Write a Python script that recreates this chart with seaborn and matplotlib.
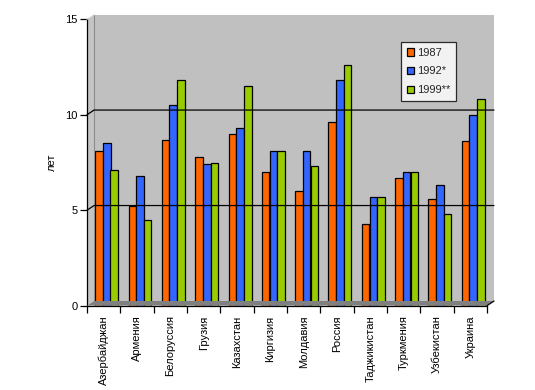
import matplotlib
matplotlib.use("Agg")
import matplotlib.pyplot as plt
import matplotlib.transforms as mtransforms
from matplotlib.patches import Polygon
from matplotlib.lines import Line2D
import seaborn as sns
import pandas as pd

countries = ["Азербайджан", "Армения", "Белоруссия", "Грузия", "Казахстан", "Киргизия",
             "Молдавия", "Россия", "Таджикистан", "Туркмения", "Узбекистан", "Украина"]
series_names = ["1987", "1992*", "1999**"]
v1987 = [8.1, 5.2, 8.7, 7.8, 9.0, 7.0, 6.0, 9.6, 4.3, 6.7, 5.6, 8.6]
v1992 = [8.5, 6.8, 10.5, 7.4, 9.3, 8.1, 8.1, 11.8, 5.7, 7.0, 6.3, 10.0]
v1999 = [7.1, 4.5, 11.8, 7.5, 11.5, 8.1, 7.3, 12.6, 5.7, 7.0, 4.8, 10.8]
colors = ["#FF6600", "#3366FF", "#99CC00"]
y_ticks = [0, 5, 10, 15]

rows = []
for name, vals in zip(series_names, [v1987, v1992, v1999]):
    for c, v in zip(countries, vals):
        rows.append({"country": c, "year": name, "value": v})
df = pd.DataFrame(rows)

sns.set_theme(style="white")
plt.rcParams["font.family"] = ["Liberation Sans", "DejaVu Sans"]

W, H = 535, 390
fig = plt.figure(figsize=(W / 100, H / 100), dpi=100)
fig.patch.set_facecolor("white")

def fx(px):
    return px / W

def fy(py):
    return 1 - py / H

def pts(seq):
    return [(fx(a), fy(b)) for a, b in seq]

x0, x1 = 87, 487
y0, y1 = 305.7, 19.3
dx, dy = 7, 4.7

# walls
fig.add_artist(Polygon(pts([(x0 + dx, y1 - dy), (x1 + dx, y1 - dy), (x1 + dx, y0 - dy), (x0 + dx, y0 - dy)]),
                       closed=True, facecolor="#C0C0C0", edgecolor="none", transform=fig.transFigure, zorder=0))
fig.add_artist(Polygon(pts([(x0, y1), (x0 + dx, y1 - dy), (x0 + dx, y0 - dy), (x0, y0)]),
                       closed=True, facecolor="#C4C4C4", edgecolor="none", transform=fig.transFigure, zorder=0))
fig.add_artist(Line2D([fx(x0 + dx), fx(x0 + dx)], [fy(y1 - dy), fy(y0 - dy)], color="#8C8C8C", lw=0.8,
                      transform=fig.transFigure, zorder=0.5))
fig.add_artist(Line2D([fx(x0), fx(x0 + dx)], [fy(y1), fy(y1 - dy)], color="#E0E0E0", lw=0.8,
                      transform=fig.transFigure, zorder=0.5))
# floor
fig.add_artist(Polygon(pts([(x0, y0), (x0 + dx, y0 - dy), (x1 + dx, y0 - dy), (x1, y0)]),
                       closed=True, facecolor="#808080", edgecolor="none", transform=fig.transFigure, zorder=0.5))
fig.add_artist(Line2D([fx(x1), fx(x1 + dx)], [fy(y0), fy(y0 - dy)], color="black", lw=0.9,
                      transform=fig.transFigure, zorder=3))
# gridlines on back wall
scale = (y0 - y1) / 15
for t in [5, 10]:
    yy = y0 - t * scale
    fig.add_artist(Line2D([fx(x0), fx(x0 + dx), fx(x1 + dx)], [fy(yy), fy(yy - dy), fy(yy - dy)],
                          color="black", lw=0.9, transform=fig.transFigure, zorder=0.6))

ax = fig.add_axes([fx(x0), fy(y0), (x1 - x0) / W, (y0 - y1) / H])
ax.set_facecolor("none")
sns.barplot(data=df, x="country", y="value", hue="year", order=countries, hue_order=series_names,
            palette=colors, width=0.69, edgecolor="black", linewidth=0.9, saturation=1, ax=ax, zorder=2)

shift = mtransforms.ScaledTranslation(3 / 100, 0, fig.dpi_scale_trans)
for p in ax.patches:
    p.set_transform(ax.transData + shift)

ax.set_xlim(-0.5, 11.5)
ax.set_ylim(0, 15)
ax.set_yticks(y_ticks)
ax.set_yticklabels([str(t) for t in y_ticks], fontsize=8, color="black")
ax.set_xticks([i - 0.5 for i in range(13)])
ax.set_xticklabels([])
ax.set_xticks(range(12), minor=True)
ax.set_xticklabels(countries, minor=True, rotation=90, fontsize=8, color="black")
ax.tick_params(axis="x", which="major", direction="out", length=5, width=0.9, color="black", bottom=True)
ax.tick_params(axis="x", which="minor", length=0, pad=7)
ax.tick_params(axis="y", direction="out", length=5, width=0.9, color="black", left=True, pad=2)
for s in ["top", "right"]:
    ax.spines[s].set_visible(False)
for s in ["left", "bottom"]:
    ax.spines[s].set_color("black")
    ax.spines[s].set_linewidth(0.9)
ax.set_xlabel("")
ax.set_ylabel("лет", fontsize=8, color="black", labelpad=6)

leg = ax.legend(loc="upper left", bbox_to_anchor=((401 - x0) / (x1 - x0), (y0 - 42) / (y0 - y1)),
                fontsize=8, frameon=True, fancybox=False, edgecolor="black", facecolor="white",
                handlelength=0.7, handleheight=0.7, handletextpad=0.25, labelspacing=0.8,
                borderpad=0.5, borderaxespad=0)
leg.get_frame().set_linewidth(0.9)

fig.savefig("out.png", dpi=100)
